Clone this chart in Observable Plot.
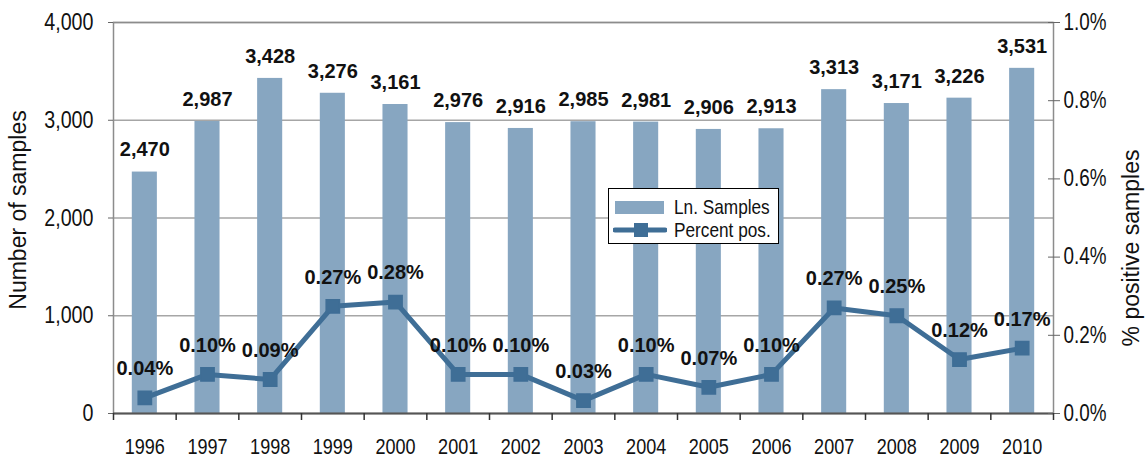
<!DOCTYPE html>
<html>
<head>
<meta charset="utf-8">
<script src="https://cdn.jsdelivr.net/npm/d3@7"></script>
<script src="https://cdn.jsdelivr.net/npm/@observablehq/plot@0.6"></script>
<style>
  html, body { margin: 0; padding: 0; background: #fff; }
  #wrap { position: relative; width: 1148px; height: 459px; font-family: "Liberation Sans", Arial, sans-serif; }
  #legend { position: absolute; left: 608px; top: 188px; width: 171px; height: 56px; border: 1px solid #000; background: #fff; box-sizing: border-box; font-size: 21px; color: #111; }
  #legend .row { position: absolute; left: 0; display: flex; align-items: center; white-space: nowrap; }
  #legend svg { display: block; }
  #legend span { display: inline-block; transform: scaleX(0.82); transform-origin: left center; }
</style>
</head>
<body>
<div id="wrap"></div>
<script>
const years = [1996, 1997, 1998, 1999, 2000, 2001, 2002, 2003, 2004, 2005, 2006, 2007, 2008, 2009, 2010];
const samples = [2470, 2987, 3428, 3276, 3161, 2976, 2916, 2985, 2981, 2906, 2913, 3313, 3171, 3226, 3531];
const percentPos = [0.04, 0.10, 0.087, 0.274, 0.285, 0.10, 0.10, 0.033, 0.10, 0.067, 0.10, 0.27, 0.25, 0.138, 0.167];
const percentLabels = ["0.04%", "0.10%", "0.09%", "0.27%", "0.28%", "0.10%", "0.10%", "0.03%", "0.10%", "0.07%", "0.10%", "0.27%", "0.25%", "0.12%", "0.17%"];
const leftTicks = [0, 1000, 2000, 3000, 4000];
const rightTicks = [0.0, 0.2, 0.4, 0.6, 0.8, 1.0];
const seriesNames = ["Ln. Samples", "Percent pos."];
const axisTitles = ["Number of samples", "% positive samples"];

const barColor = "#87a6c1";
const lineColor = "#3f6e96";
const pctScale = 4000; // 1.0% on the right axis ↔ 4000 on the left axis

const data = years.map((y, i) => ({
  year: y,
  samples: samples[i],
  pct: percentPos[i],
  pctY: percentPos[i] * pctScale,
  pctLabel: percentLabels[i]
}));
const boundaries = years.map(y => y - 0.5).concat([years[years.length - 1] + 0.5]);

const baseFont = "'Liberation Sans', Arial, sans-serif";

const chart = Plot.plot({
  width: 1148,
  height: 459,
  marginLeft: 113,
  marginRight: 95,
  marginTop: 22,
  marginBottom: 46,
  style: { fontFamily: baseFont, fontSize: "23px", color: "#111", overflow: "visible", background: "#fff" },
  x: { type: "linear", domain: [years[0] - 0.5, years[years.length - 1] + 0.5], axis: null },
  y: { domain: [0, 4000], axis: null },
  marks: [
    Plot.ruleY([1000, 2000, 3000, 4000], { stroke: "#a6a6a6", strokeWidth: 1.5 }),
    Plot.rectY(data, { x1: d => d.year - 0.2, x2: d => d.year + 0.2, y: "samples", fill: barColor }),
    Plot.frame({ stroke: "#8c8c8c", strokeWidth: 1.5 }),
    Plot.ruleY([0], { stroke: "#555", strokeWidth: 2 }),
    Plot.axisY({ anchor: "left", ticks: leftTicks, tickSize: 5, tickPadding: 15, tickFormat: d3.format(","), label: null, fontSize: 24, stroke: "#666", ariaLabel: "cond-left" }),
    Plot.axisY({ anchor: "right", ticks: rightTicks.map(p => p * pctScale), tickSize: 12, dx: -6, tickPadding: 4, tickFormat: d => (d / pctScale).toFixed(1) + "%", label: null, fontSize: 23, stroke: "#666", ariaLabel: "cond-right" }),
    Plot.axisX({ anchor: "bottom", ticks: boundaries, tickSize: 7, tickFormat: () => "", label: null, stroke: "#333", strokeWidth: 1.5 }),
    Plot.axisX({ anchor: "bottom", ticks: years, tickSize: 0, tickPadding: 25, tickFormat: d => String(d), label: null, fontSize: 22, ariaLabel: "cond-bottom" }),
    Plot.line(data, { x: "year", y: "pctY", stroke: lineColor, strokeWidth: 5 }),
    Plot.dot(data, { x: "year", y: "pctY", symbol: "square", r: 7.5, fill: lineColor, stroke: lineColor }),
    Plot.text(data, { x: "year", y: "samples", text: d => d3.format(",")(d.samples), dy: -22, fontWeight: "bold", fontSize: 20, fill: "#111" }),
    Plot.text(data, { x: "year", y: "pctY", text: "pctLabel", dy: -29, fontWeight: "bold", fontSize: 20, fill: "#111" }),
    Plot.text([axisTitles[0]], { frameAnchor: "left", textAnchor: "middle", rotate: -90, dx: -95, dy: -8, fontSize: 23, fill: "#111", ariaLabel: "cond-title" }),
    Plot.text([axisTitles[1]], { frameAnchor: "right", textAnchor: "middle", rotate: -90, dx: 78, dy: 30, fontSize: 23, fill: "#111", ariaLabel: "cond-title" })
  ]
});

// condensed look: compress axis texts horizontally along their own baseline
d3.select(chart).selectAll('g[aria-label^="cond-"] text').each(function () {
  const t = this.getAttribute("transform") || "";
  this.setAttribute("transform", t + " scale(0.82,1)");
});

const wrap = document.getElementById("wrap");
wrap.appendChild(chart);

const legend = document.createElement("div");
legend.id = "legend";
legend.innerHTML = `
  <div class="row" style="top:6px;left:6px;">
    <svg width="50" height="18"><rect x="0" y="3" width="49" height="13" fill="${barColor}"></rect></svg>
    <span style="margin-left:9px">${seriesNames[0]}</span>
  </div>
  <div class="row" style="top:29px;left:4px;">
    <svg width="54" height="20"><line x1="2" y1="10" x2="52" y2="10" stroke="${lineColor}" stroke-width="5" stroke-linecap="round"></line><rect x="21" y="3" width="14" height="14" fill="${lineColor}"></rect></svg>
    <span style="margin-left:7px">${seriesNames[1]}</span>
  </div>`;
wrap.appendChild(legend);
</script>
</body>
</html>
